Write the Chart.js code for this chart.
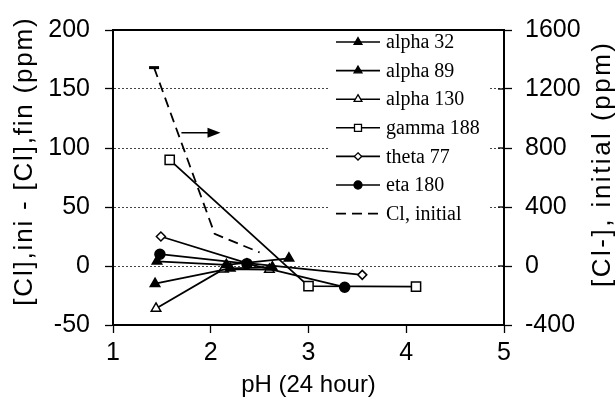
<!DOCTYPE html>
<html>
<head>
<meta charset="utf-8">
<script src="https://cdn.jsdelivr.net/npm/chart.js@4.4.1/dist/chart.umd.min.js"></script>
<style>html,body{margin:0;padding:0;background:#fff}</style>
</head>
<body>
<canvas id="clChart" width="616" height="405"></canvas>
<script>
// pH after 24 h (x) and change in chloride (left axis, ppm)
const phAlpha32 = [1.45, 2.16, 2.80];
const dClAlpha32 = [4, 1, 6.5];
const phAlpha89 = [1.43, 2.20, 2.63];
const dClAlpha89 = [-15, -2, -1];
const phAlpha130 = [1.44, 2.13, 2.60];
const dClAlpha130 = [-36, -2.7, -3];
const phGamma188 = [1.58, 3.00, 4.10];
const dClGamma188 = [90, -17, -17.5];
const phTheta77 = [1.49, 2.37, 3.55];
const dClTheta77 = [25, 2.5, -7.5];
const phEta180 = [1.48, 2.37, 3.37];
const dClEta180 = [10, 2, -18];
// initial chloride (right axis, ppm)
const phClInitial = [1.42, 2.04, 2.50];
const clInitial = [1345, 218, 92];
// arrow pointing to the right-hand axis
const arrowPh = [1.70, 2.10];
const arrowDCl = [113, 113];

const seriesNames = ['alpha 32', 'alpha 89', 'alpha 130', 'gamma 188', 'theta 77', 'eta 180', 'Cl, initial'];
const leftTitle = '[Cl],ini - [Cl],fin (ppm)';
const rightTitle = '[Cl-], initial (ppm)';

function pts(xs, ys) {
    return xs.map((x, i) => ({ x: x, y: ys[i] }));
}

function series(label, xs, ys, style, filled, radius) {
    return {
        label: label,
        data: pts(xs, ys),
        showLine: true,
        borderColor: '#000',
        borderWidth: 1.8,
        pointStyle: style,
        pointRadius: radius,
        pointBackgroundColor: filled ? '#000' : '#fff',
        pointBorderColor: '#000',
        pointBorderWidth: 1.5,
        yAxisID: 'y'
    };
}

const eta = series(seriesNames[5], phEta180, dClEta180, 'circle', true, 5);
eta.order = -1; // circles sit on top of the other markers

const datasets = [
    series(seriesNames[0], phAlpha32, dClAlpha32, 'triangle', true, 5.5),
    series(seriesNames[1], phAlpha89, dClAlpha89, 'triangle', true, 5.5),
    series(seriesNames[2], phAlpha130, dClAlpha130, 'triangle', false, 5.5),
    series(seriesNames[3], phGamma188, dClGamma188, 'rect', false, 6.5),
    series(seriesNames[4], phTheta77, dClTheta77, 'rectRot', false, 4.5),
    eta,
    {
        label: seriesNames[6],
        data: pts(phClInitial, clInitial),
        showLine: true,
        borderColor: '#000',
        borderWidth: 1.8,
        borderDash: [10, 6],
        pointStyle: 'line',
        pointRadius: [5, 0, 0],
        pointBorderWidth: 3,
        pointBorderColor: '#000',
        yAxisID: 'y2'
    }
];

// legend drawn inside the plot, on a white box
function drawMarker(ctx, ds, x, y, r) {
    ctx.save();
    ctx.fillStyle = ds.pointBackgroundColor || '#000';
    ctx.strokeStyle = '#000';
    ctx.lineWidth = 1.3;
    ctx.beginPath();
    if (ds.pointStyle === 'triangle') {
        ctx.moveTo(x, y - r);
        ctx.lineTo(x + r * 0.87, y + r * 0.5);
        ctx.lineTo(x - r * 0.87, y + r * 0.5);
        ctx.closePath();
    } else if (ds.pointStyle === 'rect') {
        ctx.rect(x - r * 0.7, y - r * 0.7, r * 1.4, r * 1.4);
    } else if (ds.pointStyle === 'rectRot') {
        ctx.moveTo(x, y - r); ctx.lineTo(x + r, y); ctx.lineTo(x, y + r); ctx.lineTo(x - r, y);
        ctx.closePath();
    } else if (ds.pointStyle === 'circle') {
        ctx.arc(x, y, r, 0, Math.PI * 2);
    } else {
        ctx.restore();
        return;
    }
    ctx.fill();
    ctx.stroke();
    ctx.restore();
}

const insideLegend = {
    id: 'insideLegend',
    beforeDatasetsDraw(chart) {
        const ctx = chart.ctx, area = chart.chartArea;
        ctx.save();
        ctx.fillStyle = '#fff';
        ctx.fillRect(330, area.top + 1, 158, 208);
        ctx.restore();
    },
    afterDatasetsDraw(chart) {
        const ctx = chart.ctx;
        const legendSizes = [4.5, 4.5, 4.5, 5, 3.6, 4];
        chart.data.datasets.forEach((ds, i) => {
            const y = 42 + i * 28.6;
            ctx.save();
            ctx.strokeStyle = '#000';
            ctx.lineWidth = 1.6;
            ctx.setLineDash(ds.borderDash || []);
            ctx.beginPath();
            ctx.moveTo(336, y);
            ctx.lineTo(380, y);
            ctx.stroke();
            ctx.restore();
            if (i < legendSizes.length) drawMarker(ctx, ds, 358, y, legendSizes[i]);
            ctx.save();
            ctx.fillStyle = '#000';
            ctx.font = '20px "Liberation Serif", "Times New Roman", serif';
            ctx.textBaseline = 'middle';
            ctx.fillText(ds.label, 386, y + 1);
            ctx.restore();
        });
    }
};

// rotated y titles, a little letter-spaced like the original
function drawVertical(ctx, text, cx, cy, spacing) {
    ctx.save();
    ctx.translate(cx, cy);
    ctx.rotate(-Math.PI / 2);
    ctx.font = '26px "Liberation Sans", Arial, sans-serif';
    ctx.fillStyle = '#000';
    ctx.textAlign = 'center';
    ctx.textBaseline = 'middle';
    if ('letterSpacing' in ctx) ctx.letterSpacing = spacing + 'px';
    ctx.fillText(text, spacing / 2, 0);
    ctx.restore();
}

// frame, inward right-axis ticks, the arrow and the y titles
const frameAndArrow = {
    id: 'frameAndArrow',
    afterDraw(chart) {
        const ctx = chart.ctx, a = chart.chartArea;
        const xs = chart.scales.x, ys = chart.scales.y, y2 = chart.scales.y2;
        ctx.save();
        ctx.strokeStyle = '#000';
        ctx.lineWidth = 2;
        ctx.strokeRect(a.left, a.top, a.right - a.left, a.bottom - a.top);
        ctx.lineWidth = 1.3;
        y2.ticks.forEach(t => {
            const py = y2.getPixelForValue(t.value);
            ctx.beginPath();
            ctx.moveTo(a.right - 6, py);
            ctx.lineTo(a.right, py);
            ctx.stroke();
        });
        const x0 = xs.getPixelForValue(arrowPh[0]), x1 = xs.getPixelForValue(arrowPh[1]);
        const y0 = ys.getPixelForValue(arrowDCl[0]), y1 = ys.getPixelForValue(arrowDCl[1]);
        ctx.lineWidth = 1.5;
        ctx.beginPath();
        ctx.moveTo(x0, y0);
        ctx.lineTo(x1 - 6, y1);
        ctx.stroke();
        ctx.fillStyle = '#000';
        ctx.beginPath();
        ctx.moveTo(x1, y1);
        ctx.lineTo(x1 - 13, y1 - 5);
        ctx.lineTo(x1 - 13, y1 + 5);
        ctx.closePath();
        ctx.fill();
        ctx.restore();

        drawVertical(ctx, leftTitle, 25, 162, 1.8);
        drawVertical(ctx, rightTitle, 603, 165, 2.5);
    }
};

Chart.defaults.font.family = '"Liberation Sans", Arial, sans-serif';
Chart.defaults.color = '#000';

const canvas = document.getElementById('clChart');
if (canvas) {
    const ctx = canvas.getContext('2d');
    new Chart(ctx, {
        type: 'scatter',
        data: { datasets: datasets },
        plugins: [insideLegend, frameAndArrow],
        options: {
            responsive: false,
            animation: false,
            layout: { padding: { top: 20, left: 0, right: 0, bottom: 0 } },
            plugins: { legend: { display: false }, tooltip: { enabled: false } },
            scales: {
                x: {
                    type: 'linear',
                    min: 1, max: 5,
                    ticks: { stepSize: 1, font: { size: 25 }, padding: 5, maxRotation: 0 },
                    grid: { drawOnChartArea: false, tickLength: 8, tickColor: '#000', tickWidth: 1.3 },
                    border: { color: '#000', width: 2 },
                    title: { display: true, text: 'pH (24 hour)', font: { size: 24 }, padding: { top: 0, bottom: 5 } },
                    afterFit(scale) { scale.height = 80; }
                },
                y: {
                    position: 'left',
                    min: -50, max: 200,
                    ticks: { stepSize: 50, font: { size: 25 }, padding: 15 },
                    grid: { color: '#444', lineWidth: 1, tickLength: 8, tickColor: '#000', tickWidth: 1.3, tickBorderDash: [] },
                    border: { color: '#000', width: 2, dash: [2, 2] },
                    title: { display: false },
                    afterFit(scale) { scale.width = 113; }
                },
                y2: {
                    position: 'right',
                    min: -400, max: 1600,
                    ticks: { stepSize: 400, font: { size: 25 }, padding: 13, callback: v => String(v) },
                    grid: { drawOnChartArea: false, tickLength: 8, tickColor: '#000', tickWidth: 1.3 },
                    border: { color: '#000', width: 2 },
                    title: { display: false },
                    afterFit(scale) { scale.width = 112; }
                }
            }
        }
    });
} else {
    console.error('Canvas element not found');
}
</script>
</body>
</html>
